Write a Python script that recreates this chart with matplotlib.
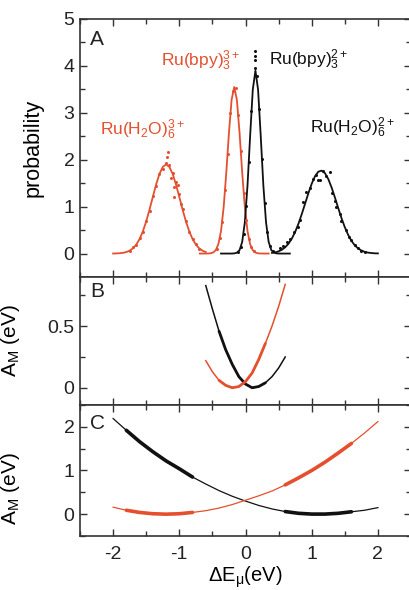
import numpy as np
import matplotlib
matplotlib.use("Agg")
import matplotlib.pyplot as plt
from matplotlib.ticker import MultipleLocator

plt.rcParams['font.family'] = ['Liberation Sans', 'DejaVu Sans']
plt.rcParams['mathtext.fontset'] = 'custom'
plt.rcParams['mathtext.rm'] = 'Liberation Sans'
plt.rcParams['mathtext.it'] = 'Liberation Sans:italic'

RED = '#e4502f'
BLK = '#111111'

# ---- panel A: fitted lines ----
h2o3_x = [-2.0, -1.95, -1.9, -1.85, -1.8, -1.75, -1.7, -1.65, -1.6, -1.55, -1.5, -1.45, -1.4, -1.35,
          -1.3, -1.25, -1.2, -1.15, -1.1, -1.05, -1.0, -0.95, -0.9, -0.85, -0.8, -0.75, -0.7, -0.65, -0.6]
h2o3_y = [0.001, 0.003, 0.007, 0.016, 0.032, 0.062, 0.112, 0.191, 0.310, 0.474, 0.685, 0.935, 1.207, 1.472,
          1.696, 1.847, 1.90, 1.847, 1.696, 1.472, 1.207, 0.935, 0.685, 0.474, 0.310, 0.191, 0.112, 0.062, 0.032]

bpy3_x = [-0.69, -0.65, -0.61, -0.57, -0.53, -0.49, -0.45, -0.41, -0.37, -0.33, -0.29, -0.25, -0.21, -0.17,
          -0.13, -0.09, -0.05, -0.01, 0.03, 0.07, 0.11, 0.15, 0.19, 0.23, 0.27, 0.31, 0.35]
bpy3_y = [0.0, 0.0, 0.0, 0.001, 0.005, 0.021, 0.070, 0.199, 0.480, 0.987, 1.728, 2.578, 3.277, 3.55,
          3.277, 2.578, 1.728, 0.987, 0.480, 0.199, 0.070, 0.021, 0.005, 0.001, 0.0, 0.0, 0.0]

bpy2_x = [-0.37, -0.33, -0.29, -0.25, -0.21, -0.17, -0.13, -0.09, -0.05, -0.01, 0.03, 0.07, 0.11, 0.15,
          0.19, 0.23, 0.27, 0.31, 0.35, 0.39, 0.43, 0.47, 0.51, 0.55, 0.59, 0.63, 0.67]
bpy2_y = [0.0, 0.0, 0.0, 0.0, 0.0, 0.003, 0.018, 0.073, 0.247, 0.667, 1.445, 2.508, 3.493, 3.90,
          3.493, 2.508, 1.445, 0.667, 0.247, 0.073, 0.018, 0.003, 0.0, 0.0, 0.0, 0.0, 0.0]

h2o2_x = [0.40, 0.45, 0.50, 0.55, 0.60, 0.65, 0.70, 0.75, 0.80, 0.85, 0.90, 0.95, 1.00, 1.05, 1.10, 1.15,
          1.20, 1.25, 1.30, 1.35, 1.40, 1.45, 1.50, 1.55, 1.60, 1.65, 1.70, 1.75, 1.80, 1.85, 1.90, 1.95, 2.00]
h2o2_y = [0.014, 0.026, 0.047, 0.081, 0.134, 0.211, 0.319, 0.461, 0.636, 0.841, 1.063, 1.286, 1.488, 1.648,
          1.745, 1.768, 1.714, 1.590, 1.411, 1.198, 0.973, 0.756, 0.562, 0.400, 0.272, 0.177, 0.110, 0.066,
          0.037, 0.020, 0.011, 0.005, 0.003]

# ---- panel A: simulation points ----
h2o3_px = [-1.75, -1.7, -1.65, -1.6, -1.55, -1.5, -1.45, -1.4, -1.35, -1.3, -1.25, -1.2, -1.19, -1.17, -1.15,
           -1.13, -1.1, -1.08, -1.08, -1.05, -1.02, -1.0, -0.97, -0.95, -0.9, -0.85, -0.8, -0.75, -0.7]
h2o3_py = [0.06, 0.13, 0.19, 0.33, 0.45, 0.70, 0.90, 1.22, 1.45, 1.70, 1.80, 1.93, 2.06, 2.17, 1.88,
           1.60, 1.72, 1.42, 1.21, 1.53, 1.46, 1.28, 1.05, 0.95, 0.70, 0.46, 0.30, 0.20, 0.10]

bpy3_px = [-0.43, -0.39, -0.35, -0.31, -0.27, -0.23, -0.19, -0.15, -0.11, -0.07, -0.03, 0.01, 0.05, 0.09, 0.13]
bpy3_py = [0.10, 0.33, 0.68, 1.36, 2.12, 3.00, 3.46, 3.53, 2.95, 2.18, 1.30, 0.72, 0.30, 0.13, 0.05]

bpy2_px = [-0.11, -0.07, -0.03, 0.01, 0.05, 0.09, 0.14, 0.14, 0.14, 0.14, 0.17, 0.21, 0.25, 0.29, 0.33, 0.37, 0.41]
bpy2_py = [0.04, 0.14, 0.42, 1.01, 1.96, 3.04, 4.31, 4.22, 4.12, 3.96, 3.79, 3.08, 2.02, 1.08, 0.46, 0.16, 0.05]

h2o2_px = [0.52, 0.57, 0.62, 0.67, 0.74, 0.79, 0.82, 0.87, 0.92, 0.97, 1.02, 1.07, 1.09, 1.12, 1.17, 1.22,
           1.27, 1.30, 1.35, 1.37, 1.42, 1.45, 1.52, 1.57, 1.60, 1.65, 1.70, 1.75, 1.80]
h2o2_py = [0.11, 0.16, 0.25, 0.32, 0.46, 0.57, 0.71, 1.10, 1.32, 1.40, 1.58, 1.67, 1.57, 1.57, 1.75, 1.66,
           1.74, 1.30, 1.12, 1.00, 0.84, 0.70, 0.50, 0.36, 0.28, 0.18, 0.11, 0.06, 0.03]

# ---- panel B: free energy, bpy couple ----
b_x = [-0.6, -0.5, -0.4, -0.3, -0.2, -0.1, 0.0, 0.1, 0.2, 0.3, 0.4, 0.5, 0.6]
b_black = [0.83, 0.64, 0.46, 0.31, 0.19, 0.09, 0.03, 0.0, 0.01, 0.04, 0.09, 0.16, 0.25]
b_red = [0.22, 0.13, 0.06, 0.02, 0.0, 0.01, 0.05, 0.12, 0.23, 0.36, 0.50, 0.66, 0.84]
b_thick = [(-0.4, 0.3)]

# ---- panel C: free energy, aqua couple ----
c_x = [-2.0, -1.8, -1.6, -1.4, -1.2, -1.0, -0.8, -0.6, -0.4, -0.2, 0.0, 0.2, 0.4, 0.6, 0.8, 1.0, 1.2,
       1.4, 1.6, 1.8, 2.0]
c_black = [2.19, 1.92, 1.66, 1.43, 1.22, 1.04, 0.85, 0.69, 0.54, 0.41, 0.30, 0.20, 0.12, 0.06, 0.02, 0.002,
           0.002, 0.02, 0.055, 0.09, 0.15]
c_red = [0.16, 0.09, 0.04, 0.01, 0.0, 0.01, 0.04, 0.08, 0.14, 0.22, 0.32, 0.42, 0.53, 0.67, 0.83, 1.00,
         1.19, 1.40, 1.62, 1.86, 2.12]
c_thick = [(-1.8, -0.7), (0.6, 1.65)]

fig = plt.figure(figsize=(4.09, 5.90), dpi=100)
left, width = 80 / 409, 331 / 409
axA = fig.add_axes([left, 0.5305, width, 0.4373])
axB = fig.add_axes([left, 0.3136, width, 0.2169])
axC = fig.add_axes([left, 0.0915, width, 0.2221])

# panel A
axA.plot(h2o3_x, h2o3_y, color=RED, lw=1.3)
axA.plot(bpy3_x, bpy3_y, color=RED, lw=1.3)
axA.plot(bpy2_x, bpy2_y, color=BLK, lw=1.3)
axA.plot(h2o2_x, h2o2_y, color=BLK, lw=1.3)
axA.plot(h2o3_px, h2o3_py, 'o', color=RED, ms=2.2, mew=0)
axA.plot(bpy3_px, bpy3_py, 'o', color=RED, ms=2.2, mew=0)
axA.plot(bpy2_px, bpy2_py, 'o', color=BLK, ms=2.2, mew=0)
axA.plot(h2o2_px, h2o2_py, 'o', color=BLK, ms=2.2, mew=0)

axA.text(-2.20, 2.53, r'Ru(H$_2$O)$_6^{3+}$', color=RED, fontsize=12.5)
axA.text(-1.27, 3.99, r'Ru(bpy)$_3^{3+}$', color=RED, fontsize=12.5)
axA.text(0.35, 4.02, r'Ru(bpy)$_3^{2+}$', color=BLK, fontsize=12.5)
axA.text(0.97, 2.57, r'Ru(H$_2$O)$_6^{2+}$', color=BLK, fontsize=12.5)
axA.set_ylim(-0.5, 5)
axA.yaxis.set_major_locator(MultipleLocator(1))
axA.yaxis.set_minor_locator(MultipleLocator(0.5))
axA.set_ylabel('probability', fontsize=15.5)
axA.yaxis.set_label_coords(-0.11, 0.5)


def thick_parts(ax, xs, ys, ranges, color, lw):
    xs = np.array(xs)
    ys = np.array(ys)
    for lo, hi in ranges:
        m = (xs >= lo - 1e-9) & (xs <= hi + 1e-9)
        ax.plot(xs[m], ys[m], color=color, lw=lw, solid_capstyle='round')


# panel B
axB.plot(b_x, b_black, color=BLK, lw=1.1)
axB.plot(b_x, b_red, color=RED, lw=1.1)
thick_parts(axB, b_x, b_black, b_thick, BLK, 2.0)
thick_parts(axB, b_x, b_red, b_thick, RED, 2.0)
axB.set_ylim(-0.14, 0.9)
axB.yaxis.set_minor_locator(MultipleLocator(0.25))
axB.set_yticks([0, 0.5])
axB.set_yticklabels(['0', '0.5'])
axB.set_ylabel(r'A$_{\rm M}$ (eV)', fontsize=15)
axB.yaxis.set_label_coords(-0.175, 0.5)

# panel C
axC.plot(c_x, c_black, color=BLK, lw=0.9)
axC.plot(c_x, c_red, color=RED, lw=0.9)
thick_parts(axC, c_x, c_black, c_thick, BLK, 2.6)
thick_parts(axC, c_x, c_red, c_thick, RED, 2.6)
axC.set_ylim(-0.5, 2.5)
axC.yaxis.set_major_locator(MultipleLocator(1))
axC.yaxis.set_minor_locator(MultipleLocator(0.5))
axC.set_ylabel(r'A$_{\rm M}$ (eV)', fontsize=15)
axC.yaxis.set_label_coords(-0.175, 0.36)
axC.set_xlabel(r'$\Delta$E$_{\rm μ}$(eV)', fontsize=14.5)
axC.xaxis.set_label_coords(0.5, -0.22)

for ax, letter, yl in [(axA, 'A', 0.90), (axB, 'B', 0.84), (axC, 'C', 0.82)]:
    ax.set_xlim(-2.5, 2.5)
    ax.xaxis.set_major_locator(MultipleLocator(1))
    ax.xaxis.set_minor_locator(MultipleLocator(0.5))
    ax.tick_params(which='both', direction='in', top=True, right=True, colors='#333333',
                   labelcolor='#222222', labelsize=14, width=1.0)
    ax.tick_params(which='major', length=5)
    ax.tick_params(which='minor', length=3.5)
    ax.tick_params(axis='y', pad=4)
    ax.tick_params(axis='x', pad=7)
    for s in ax.spines.values():
        s.set_color('#333333')
        s.set_linewidth(1.2)
    ax.text(0.03, yl, letter, transform=ax.transAxes, fontsize=15, color='#222222')
    if ax is not axC:
        ax.tick_params(axis='x', labelbottom=False)

axC.set_xticks([-2, -1, 0, 1, 2])
axC.set_xticklabels(['-2', '-1', '0', '1', '2'])

fig.savefig('out.png', dpi=100)
